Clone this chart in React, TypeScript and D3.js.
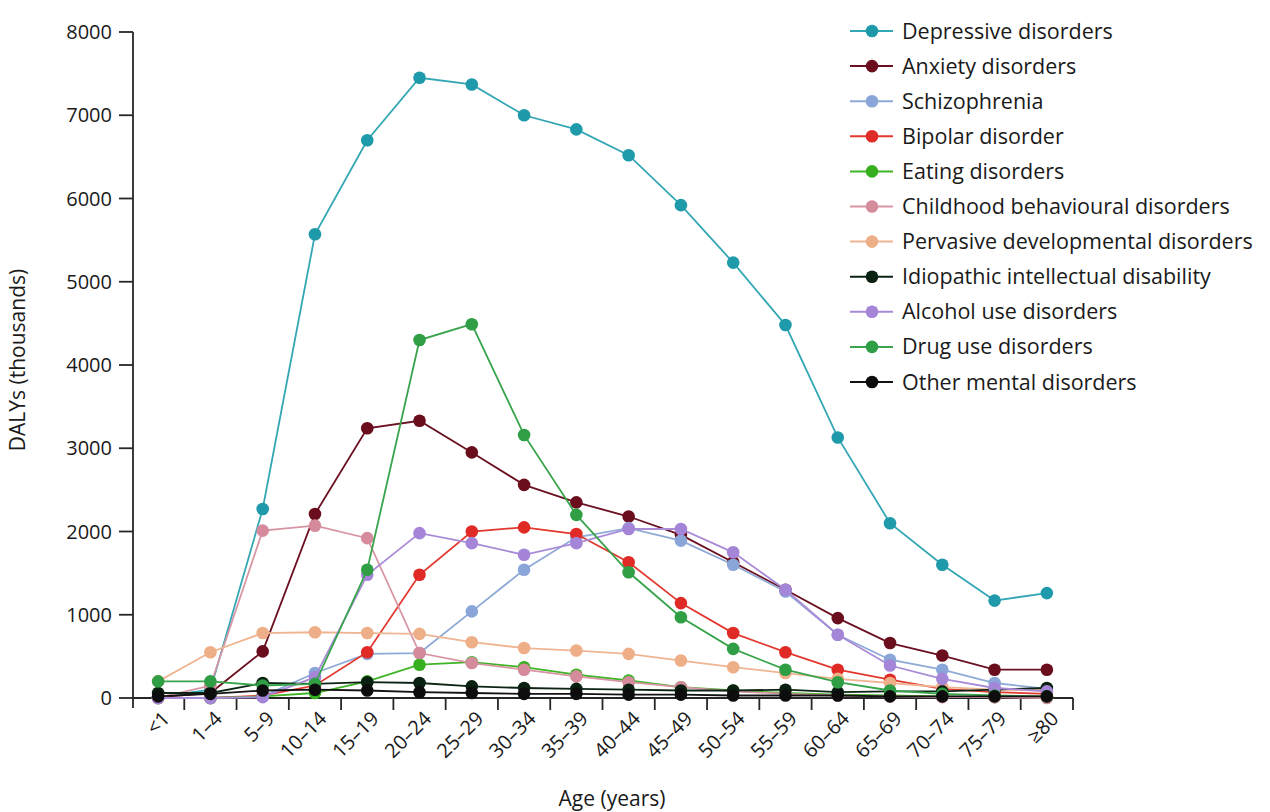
import React, { useEffect, useRef } from 'react';
import * as d3 from 'd3';

const ages = ['<1', '1–4', '5–9', '10–14', '15–19', '20–24', '25–29', '30–34', '35–39', '40–44', '45–49', '50–54', '55–59', '60–64', '65–69', '70–74', '75–79', '≥80'];

const depressive = [10, 100, 2270, 5570, 6700, 7450, 7370, 7000, 6830, 6520, 5920, 5230, 4480, 3130, 2100, 1600, 1170, 1260];
const anxiety = [10, 60, 560, 2210, 3240, 3330, 2950, 2560, 2350, 2180, 1960, 1630, 1300, 960, 660, 510, 340, 340];
const schizophrenia = [0, 0, 20, 300, 530, 540, 1040, 1540, 1930, 2040, 1890, 1600, 1280, 760, 460, 340, 180, 110];
const bipolar = [0, 0, 30, 150, 550, 1480, 2000, 2050, 1970, 1630, 1140, 780, 550, 340, 220, 110, 70, 50];
const eating = [0, 0, 20, 60, 200, 400, 430, 370, 280, 210, 130, 90, 60, 40, 30, 20, 10, 10];
const childhood = [0, 150, 2010, 2070, 1920, 540, 420, 340, 260, 190, 130, 80, 50, 30, 20, 10, 10, 0];
const pervasive = [200, 550, 780, 790, 780, 770, 670, 600, 570, 530, 450, 370, 300, 230, 180, 130, 100, 90];
const idiopathic = [60, 60, 180, 170, 190, 180, 140, 120, 110, 100, 90, 90, 100, 70, 80, 80, 100, 120];
const alcohol = [0, 0, 10, 250, 1480, 1980, 1860, 1720, 1860, 2030, 2030, 1750, 1300, 760, 390, 230, 120, 80];
const drug = [200, 200, 150, 170, 1540, 4300, 4490, 3160, 2200, 1510, 970, 590, 340, 190, 90, 50, 30, 20];
const other = [20, 50, 90, 100, 90, 70, 60, 50, 50, 40, 40, 30, 30, 30, 20, 20, 20, 20];

const seriesNames = [
  'Depressive disorders',
  'Anxiety disorders',
  'Schizophrenia',
  'Bipolar disorder',
  'Eating disorders',
  'Childhood behavioural disorders',
  'Pervasive developmental disorders',
  'Idiopathic intellectual disability',
  'Alcohol use disorders',
  'Drug use disorders',
  'Other mental disorders',
];
const seriesValues = [depressive, anxiety, schizophrenia, bipolar, eating, childhood, pervasive, idiopathic, alcohol, drug, other];
const lineColors = ['#34a7b4', '#6a1020', '#8faad6', '#e2382e', '#3fb526', '#d895a4', '#efb592', '#0d2414', '#a98bd8', '#38a44c', '#121212'];
const dotColors = ['#1f9aaa', '#6a0d1d', '#8aa6d8', '#e02a25', '#36b01e', '#d68b9c', '#eeae88', '#0a2010', '#a585d8', '#2f9e45', '#0d0d0d'];

const yTicks = [0, 1000, 2000, 3000, 4000, 5000, 6000, 7000, 8000];

const FONT = '"Open Sans", "Noto Sans", sans-serif';

export default function App() {
  const svgRef = useRef<SVGSVGElement>(null);

  useEffect(() => {
    if (!svgRef.current) return;
    const svg = d3.select(svgRef.current);
    svg.selectAll('*').remove();

    const x = d3.scaleBand<string>().domain(ages).range([132, 1073]);
    const y = d3.scaleLinear().domain([0, 8000]).range([698, 32]);
    const cx = (i: number) => (x(ages[i]) || 0) + x.bandwidth() / 2;

    svg.style('font-family', FONT);

    // axes
    const axisColor = '#262626';
    svg.append('line')
      .attr('x1', 133).attr('x2', 133).attr('y1', y(8000)).attr('y2', 708)
      .attr('stroke', axisColor).attr('stroke-width', 1.8);
    svg.append('line')
      .attr('x1', 133).attr('x2', 1073).attr('y1', 698).attr('y2', 698)
      .attr('stroke', axisColor).attr('stroke-width', 1.8);

    const yg = svg.append('g');
    yTicks.forEach(t => {
      yg.append('line')
        .attr('x1', 119).attr('x2', 133).attr('y1', y(t)).attr('y2', y(t))
        .attr('stroke', axisColor).attr('stroke-width', 1.8);
      yg.append('text')
        .attr('x', 112).attr('y', y(t)).attr('dy', '0.35em')
        .attr('text-anchor', 'end')
        .attr('fill', '#1a1a1a')
        .style('font-size', '20px')
        .text(t);
    });

    const xg = svg.append('g');
    ages.forEach((a, i) => {
      const bx = (x(a) || 0) + x.bandwidth();
      xg.append('line')
        .attr('x1', bx).attr('x2', bx).attr('y1', 698).attr('y2', 710)
        .attr('stroke', axisColor).attr('stroke-width', 1.8);
      xg.append('text')
        .attr('transform', `translate(${cx(i) + 8},${715}) rotate(-45)`)
        .attr('text-anchor', 'end')
        .attr('dy', '0.35em')
        .attr('fill', '#1a1a1a')
        .style('font-size', '20px')
        .text(a);
    });

    svg.append('text')
      .attr('x', 612).attr('y', 806)
      .attr('text-anchor', 'middle')
      .attr('fill', '#1a1a1a')
      .style('font-size', '21px')
      .text('Age (years)');

    svg.append('text')
      .attr('transform', `translate(25,360) rotate(-90)`)
      .attr('text-anchor', 'middle')
      .attr('fill', '#1a1a1a')
      .style('font-size', '21px')
      .text('DALYs (thousands)');

    // series
    const line = d3.line<number>()
      .x((_, i) => cx(i))
      .y(d => y(d));

    seriesValues.forEach((vals, s) => {
      const g = svg.append('g');
      g.append('path')
        .attr('d', line(vals) || '')
        .attr('fill', 'none')
        .attr('stroke', lineColors[s])
        .attr('stroke-width', 1.8);
      g.selectAll('circle')
        .data(vals)
        .join('circle')
        .attr('cx', (_, i) => cx(i))
        .attr('cy', d => y(d))
        .attr('r', 6.3)
        .attr('fill', dotColors[s]);
    });

    // legend
    const lg = svg.append('g');
    seriesNames.forEach((name, s) => {
      const ly = 31 + s * 35.1;
      lg.append('line')
        .attr('x1', 850).attr('x2', 893).attr('y1', ly).attr('y2', ly)
        .attr('stroke', lineColors[s]).attr('stroke-width', 2);
      lg.append('circle')
        .attr('cx', 872).attr('cy', ly).attr('r', 6.3)
        .attr('fill', dotColors[s]);
      lg.append('text')
        .attr('x', 902).attr('y', ly).attr('dy', '0.35em')
        .attr('fill', '#1a1a1a')
        .style('font-size', '21.5px')
        .text(name);
    });
  }, []);

  return (
    <div style={{ position: 'absolute', left: 0, top: 0, width: 1270, height: 812, background: '#fff' }}>
      <svg ref={svgRef} width={1270} height={812} />
    </div>
  );
}
